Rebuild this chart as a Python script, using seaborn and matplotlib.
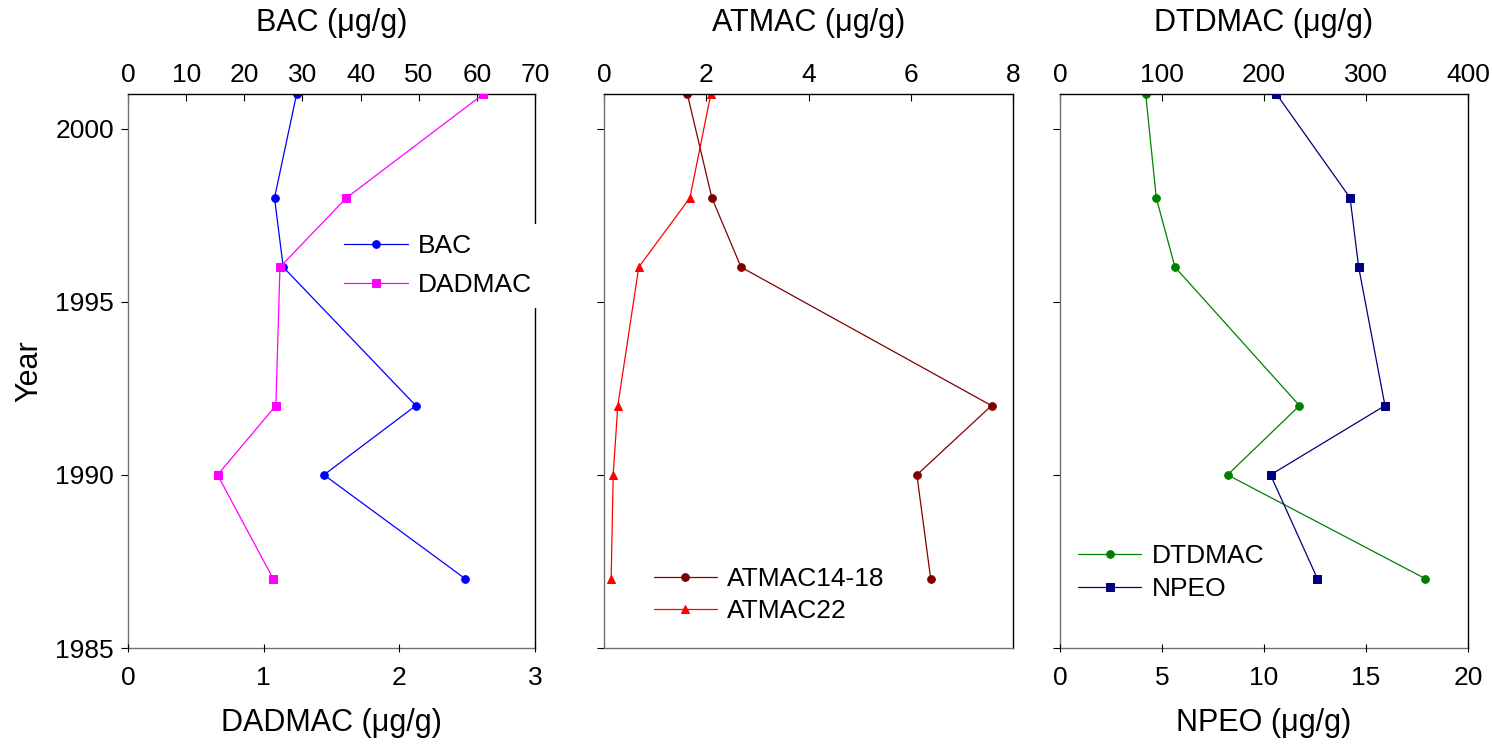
import matplotlib
matplotlib.use("Agg")
import matplotlib.pyplot as plt
import seaborn as sns
import numpy as np

sns.set_theme(style="white")
plt.rcParams['font.family'] = ['Liberation Sans', 'DejaVu Sans']
plt.rcParams['text.color'] = 'black'
plt.rcParams['axes.labelcolor'] = 'black'
plt.rcParams['xtick.color'] = 'black'
plt.rcParams['ytick.color'] = 'black'

years = [2001, 1998, 1996, 1992, 1990, 1987]
bac = [29.0, 25.2, 26.7, 49.5, 33.7, 58.0]
dadmac = [2.62, 1.61, 1.12, 1.09, 0.66, 1.07]
atmac1418 = [1.63, 2.11, 2.68, 7.58, 6.12, 6.39]
atmac22 = [2.09, 1.68, 0.68, 0.27, 0.18, 0.14]
dtdmac = [84.0, 94.4, 112.7, 234.8, 164.3, 358.3]
npeo = [10.61, 14.22, 14.64, 15.93, 10.32, 12.62]

bac_ticks = [0, 10, 20, 30, 40, 50, 60, 70]
dadmac_ticks = [0, 1, 2, 3]
atmac_ticks = [0, 2, 4, 6, 8]
dtdmac_ticks = [0, 100, 200, 300, 400]
npeo_ticks = [0, 5, 10, 15, 20]
year_ticks = [1985, 1990, 1995, 2000]

TICK_FS = 19
LAB_FS = 22
LEG_FS = 19
LW = 0.9
MS = 5.5

fig = plt.figure(figsize=(14.92, 7.47), dpi=100)
W, H = 1492, 747
top_px, bot_px = 94, 648
def pos(l, r):
    return [l / W, (H - bot_px) / H, (r - l) / W, (bot_px - top_px) / H]

ax1 = fig.add_axes(pos(128, 535))
ax2 = fig.add_axes(pos(604, 1013))
ax3 = fig.add_axes(pos(1060, 1468))
ax1b = ax1.twiny()
ax3b = ax3.twiny()

def style_main(ax, ticks, label, show_ylabels):
    ax.set_ylim(1985, 2001)
    ax.set_yticks(year_ticks)
    ax.set_xlim(ticks[0], ticks[-1])
    ax.set_xticks(ticks)
    ax.xaxis.tick_top()
    ax.xaxis.set_label_position('top')
    ax.set_xlabel(label, fontsize=LAB_FS, labelpad=23)
    ax.tick_params(axis='x', which='both', top=True, bottom=False, labeltop=True,
                   labelbottom=False, direction='in',
                   length=5, width=0.8, color='black', labelsize=TICK_FS, pad=5)
    ax.tick_params(axis='y', left=True, direction='out', length=5, width=0.8,
                   color='black', labelsize=TICK_FS, pad=5, labelleft=show_ylabels)
    for s in ['top', 'right']:
        ax.spines[s].set_color('black')
    for s in ['left', 'bottom']:
        ax.spines[s].set_color('#707070')
    for s in ax.spines.values():
        s.set_linewidth(1.0)

def style_twin(ax, ticks, label):
    ax.set_ylim(1985, 2001)
    ax.set_xlim(ticks[0], ticks[-1])
    ax.set_xticks(ticks)
    ax.xaxis.tick_bottom()
    ax.xaxis.set_label_position('bottom')
    ax.set_xlabel(label, fontsize=LAB_FS, labelpad=13)
    ax.tick_params(axis='x', top=False, bottom=True, labeltop=False, labelbottom=True,
                   direction='inout', length=6,
                   width=0.8, color='black', labelsize=TICK_FS, pad=10)
    for s in ax.spines.values():
        s.set_visible(False)

def draw(ax, x, color, marker, label):
    sns.lineplot(x=x, y=years, ax=ax, sort=False, estimator=None, color=color,
                 marker=marker, markersize=MS, markeredgecolor=color, linewidth=LW,
                 label=label, legend=False)

# Panel 1
draw(ax1, bac, '#0000FF', 'o', 'BAC')
draw(ax1b, dadmac, '#FF00FF', 's', 'DADMAC')
style_main(ax1, bac_ticks, 'BAC (μg/g)', True)
ax1.set_ylabel('Year', fontsize=LAB_FS, labelpad=8)
style_twin(ax1b, dadmac_ticks, 'DADMAC (μg/g)')
ax1b.set_ylabel('')
h1, l1 = ax1.get_legend_handles_labels()
h2, l2 = ax1b.get_legend_handles_labels()
ax1b.legend(h1 + h2, l1 + l2, loc='center left', bbox_to_anchor=(0.473, 0.69),
            fontsize=LEG_FS, frameon=True, facecolor='white', edgecolor='none',
            framealpha=1, fancybox=False, handlelength=2.4, handletextpad=0.4,
            labelspacing=0.55, numpoints=1, borderpad=0.4)

# Panel 2
draw(ax2, atmac1418, '#800000', 'o', 'ATMAC14-18')
draw(ax2, atmac22, '#FF0000', '^', 'ATMAC22')
style_main(ax2, atmac_ticks, 'ATMAC (μg/g)', False)
ax2.set_ylabel('')
ax2.legend(loc='center left', bbox_to_anchor=(0.063, 0.095), fontsize=LEG_FS,
           frameon=False, handlelength=2.4, handletextpad=0.4, labelspacing=0.3,
           numpoints=1)

# Panel 3
draw(ax3, dtdmac, '#008000', 'o', 'DTDMAC')
draw(ax3b, npeo, '#000080', 's', 'NPEO')
style_main(ax3, dtdmac_ticks, 'DTDMAC (μg/g)', False)
ax3.set_ylabel('')
style_twin(ax3b, npeo_ticks, 'NPEO (μg/g)')
ax3b.set_ylabel('')
h1, l1 = ax3.get_legend_handles_labels()
h2, l2 = ax3b.get_legend_handles_labels()
ax3b.legend(h1 + h2, l1 + l2, loc='center left', bbox_to_anchor=(-0.014, 0.136),
            fontsize=LEG_FS, frameon=False, handlelength=2.4, handletextpad=0.4,
            labelspacing=0.33, numpoints=1)

fig.savefig('out.png', dpi=100)
